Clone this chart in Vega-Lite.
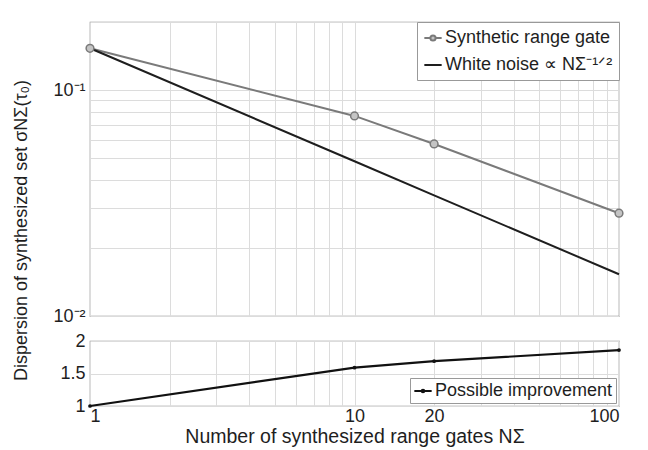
{
  "$schema": "https://vega.github.io/schema/vega-lite/v6.json",
  "padding": {"left": 11, "top": 12, "right": 5, "bottom": 2},
  "spacing": 25,
  "bounds": "flush",
  "config": {
    "font": "Liberation Sans",
    "view": {"stroke": "#8c8c8c", "strokeWidth": 1.2},
    "axis": {
      "labelFont": "Liberation Sans",
      "titleFont": "Liberation Sans",
      "labelFontSize": 18,
      "titleFontSize": 18,
      "titleFontWeight": "normal",
      "labelColor": "#1e1e1e",
      "titleColor": "#1e1e1e",
      "gridColor": "#dcdcdc",
      "gridWidth": 1,
      "domain": false,
      "ticks": false,
      "labelPadding": 5
    },
    "legend": {"labelFont": "Liberation Sans", "labelColor": "#1e1e1e", "labelLimit": 400}
  },
  "datasets": {
    "main": [
      {"N": 1, "series": "Synthetic range gate", "value": 0.153},
      {"N": 10, "series": "Synthetic range gate", "value": 0.0768},
      {"N": 20, "series": "Synthetic range gate", "value": 0.0577},
      {"N": 100, "series": "Synthetic range gate", "value": 0.0285},
      {"N": 1, "series": "White noise ∝ NΣ⁻¹ᐟ²", "value": 0.153},
      {"N": 10, "series": "White noise ∝ NΣ⁻¹ᐟ²", "value": 0.0484},
      {"N": 20, "series": "White noise ∝ NΣ⁻¹ᐟ²", "value": 0.0342},
      {"N": 100, "series": "White noise ∝ NΣ⁻¹ᐟ²", "value": 0.0153}
    ],
    "imp": [
      {"N": 1, "series": "Possible improvement", "value": 1.0},
      {"N": 10, "series": "Possible improvement", "value": 1.59},
      {"N": 20, "series": "Possible improvement", "value": 1.69},
      {"N": 100, "series": "Possible improvement", "value": 1.86}
    ]
  },
  "resolve": {"legend": {"color": "independent"}, "scale": {"color": "independent"}},
  "vconcat": [
    {
      "width": 529,
      "height": 294,
      "data": {"name": "main"},
      "encoding": {
        "x": {
          "field": "N", "type": "quantitative",
          "scale": {"type": "log", "domain": [1, 100]},
          "axis": {"values": [1,2,3,4,5,6,7,8,9,10,20,30,40,50,60,70,80,90,100], "labels": false, "title": null}
        },
        "y": {
          "field": "value", "type": "quantitative",
          "scale": {"type": "log", "domain": [0.01, 0.2]},
          "axis": {
            "values": [0.01,0.02,0.03,0.04,0.05,0.06,0.07,0.08,0.09,0.1,0.2],
            "labelExpr": "datum.value == 0.1 ? '10⁻¹' : (datum.value == 0.01 ? '10⁻²' : '')",
            "labelOverlap": false,
            "title": "Dispersion of synthesized set σNΣ(τ₀)",
            "titleX": -69,
            "titleY": 208,
            "titleAlign": "center",
            "titleBaseline": "middle",
            "titleAngle": -90
          }
        },
        "color": {
          "field": "series", "type": "nominal",
          "scale": {"domain": ["Synthetic range gate", "White noise ∝ NΣ⁻¹ᐟ²"], "range": ["#7a7a7a", "#1e1e1e"]},
          "legend": {
            "orient": "top-right", "offset": 0, "title": null,
            "labelFontSize": 18, "fillColor": "white", "strokeColor": "#999999",
            "padding": 6, "rowPadding": 8, "labelOffset": 2,
            "symbolType": "stroke", "symbolSize": 300, "symbolStrokeWidth": 2,
            "encode": {"symbols": {"update": {
              "shape": {"signal": "datum.label == 'Synthetic range gate' ? 'M-1,0H-0.3M0.3,0H1M0.3,0A0.3,0.3 0 1,1 -0.3,0A0.3,0.3 0 1,1 0.3,0' : 'stroke'"},
              "fill": {"value": "#c4c4c4"}
            }}}
          }
        }
      },
      "layer": [
        {"mark": {"type": "line", "strokeWidth": 2}},
        {
          "transform": [{"filter": "datum.series == 'Synthetic range gate'"}],
          "mark": {"type": "point", "filled": true, "size": 60, "strokeWidth": 1.5, "opacity": 1},
          "encoding": {"fill": {"value": "#c4c4c4"}, "stroke": {"value": "#7a7a7a"}}
        }
      ]
    },
    {
      "width": 529,
      "height": 65,
      "data": {"name": "imp"},
      "encoding": {
        "x": {
          "field": "N", "type": "quantitative",
          "scale": {"type": "log", "domain": [1, 100]},
          "axis": {
            "values": [1,2,3,4,5,6,7,8,9,10,20,30,40,50,60,70,80,90,100],
            "labelExpr": "indexof([1,10,20,100], datum.value) >= 0 ? datum.label : ''",
            "labelOverlap": false,
            "labelPadding": 1,
            "title": "Number of synthesized range gates NΣ",
            "titleFontSize": 19.5,
            "titlePadding": 2
          }
        },
        "y": {
          "field": "value", "type": "quantitative",
          "scale": {"domain": [1, 2]},
          "axis": {"values": [1, 1.5, 2], "format": "~g", "title": null}
        },
        "color": {
          "field": "series", "type": "nominal",
          "scale": {"domain": ["Possible improvement"], "range": ["#111111"]},
          "legend": {
            "orient": "bottom-right", "offset": 3, "title": null,
            "labelFontSize": 18, "fillColor": "white", "strokeColor": "#999999",
            "padding": 3, "labelOffset": 2,
            "symbolType": "stroke", "symbolSize": 300, "symbolStrokeWidth": 2,
            "encode": {"symbols": {"update": {
              "shape": {"value": "M-1,0H1M0.15,0A0.15,0.15 0 1,1 -0.15,0A0.15,0.15 0 1,1 0.15,0"},
              "fill": {"value": "#111111"}
            }}}
          }
        }
      },
      "layer": [
        {"mark": {"type": "line", "strokeWidth": 2.2}},
        {"mark": {"type": "point", "filled": true, "size": 14, "opacity": 1}}
      ]
    }
  ]
}
